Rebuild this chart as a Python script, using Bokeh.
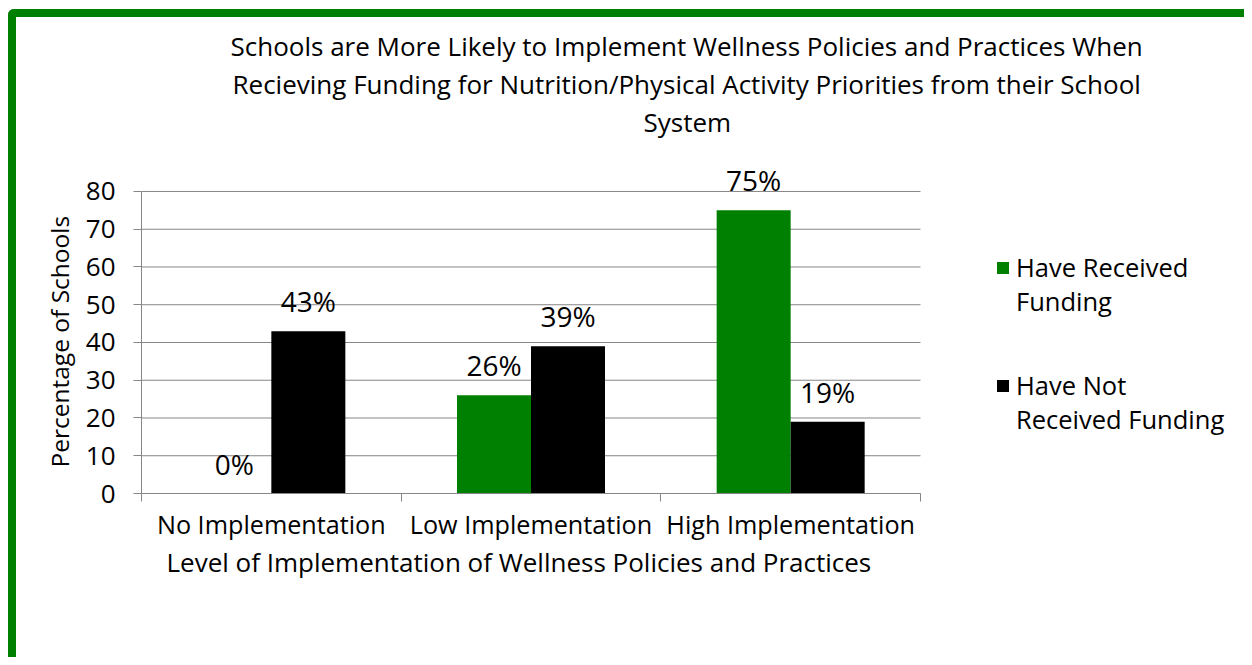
from bokeh.plotting import figure
from bokeh.models import ColumnDataSource, Range1d, FixedTicker, LabelSet, Legend, LegendItem, Title
from bokeh.embed import file_html
from bokeh.resources import INLINE
from bokeh.core.properties import value

categories = ["No Implementation", "Low Implementation", "High Implementation"]
received = [0, 26, 75]
not_received = [43, 39, 19]
series_names = ["Have Received\nFunding", "Have Not\nReceived Funding"]
y_ticks = [0, 10, 20, 30, 40, 50, 60, 70, 80]
title_lines = ["Schools are More Likely to Implement Wellness Policies and Practices When",
               "Recieving Funding  for Nutrition/Physical Activity Priorities from their School",
               "System"]
x_label = "Level of Implementation of Wellness Policies and Practices"
y_label = "Percentage of Schools"

FONT = "Open Sans"
GREEN = "#008000"
GRAY = "#868686"

# layout (canvas pixels)
W, H = 1236, 648
FL, FR, FT, FB = 125, 904, 140, 476     # axis area; frame is extended to the right for the legend
n = len(categories)
x_end = n * (W - FL) / (FR - FL)

bw = 0.285
centers = [i + 0.5 for i in range(n)]
src1 = ColumnDataSource(dict(x=[c - bw / 2 for c in centers], top=received,
                             label=[f"{v}%" for v in received]))
src2 = ColumnDataSource(dict(x=[c + bw / 2 for c in centers], top=not_received,
                             label=[f"{v}%" for v in not_received]))

p = figure(width=W, height=H, x_range=Range1d(0, x_end), y_range=Range1d(0, 89),
           output_backend="svg", toolbar_location=None, title=None,
           min_border_left=FL, min_border_right=0, min_border_bottom=H - FB, min_border_top=FT)
p.styles = {"margin-left": "8px", "margin-top": "9px",
            "border-left": "8px solid #008000", "border-top": "8px solid #008000",
            "border-top-left-radius": "6px"}
p.outline_line_color = None
p.background_fill_color = "white"
p.border_fill_color = "white"

# spacer between title block and plot, then title lines (nearest-to-frame first)
p.add_layout(Title(text=" ", text_font_size="1px", standoff=15), "above")
title_offsets = [89, 91, 502]
for line, off in reversed(list(zip(title_lines, title_offsets))):
    p.add_layout(Title(text=line, align="left", offset=off, standoff=0,
                       text_font=FONT, text_font_size="26px", text_font_style="normal",
                       text_color="black"), "above")

# horizontal grid lines limited to the category area
p.segment(x0=[0] * len(y_ticks), x1=[n] * len(y_ticks), y0=y_ticks, y1=y_ticks,
          line_color=GRAY, line_width=1)

r1 = p.vbar(x="x", top="top", width=bw, bottom=0, source=src1, fill_color=GREEN, line_color=None)
r2 = p.vbar(x="x", top="top", width=bw, bottom=0, source=src2, fill_color="black", line_color=None)

for src in (src1, src2):
    p.add_layout(LabelSet(x="x", y="top", text="label", source=src, y_offset=19,
                          text_align="center", text_baseline="alphabetic",
                          text_font=value(FONT), text_font_size=value("28px"), text_color="black"))

# y axis
p.yaxis.ticker = FixedTicker(ticks=y_ticks)
p.yaxis.bounds = (0, 80)
p.yaxis.major_tick_out = 8
p.yaxis.major_tick_in = 0
p.yaxis.minor_tick_line_color = None
p.yaxis.axis_line_color = GRAY
p.yaxis.major_tick_line_color = GRAY
p.yaxis.major_label_text_font = FONT
p.yaxis.major_label_text_font_size = "26px"
p.yaxis.major_label_text_color = "black"
p.yaxis.major_label_standoff = 18

# y-axis title, placed along the 0-80 span (not the extended frame)
p.add_layout(Title(text=y_label, align="left", offset=26, standoff=14,
                   text_font=FONT, text_font_size="24.5px", text_font_style="normal",
                   text_color="black"), "left")

# x axis
p.xaxis.ticker = FixedTicker(ticks=centers, minor_ticks=[float(i) for i in range(n + 1)])
p.xaxis.bounds = (0, n)
p.xaxis.major_label_overrides = {c: name for c, name in zip(centers, categories)}
p.xaxis.major_tick_out = 0
p.xaxis.major_tick_in = 0
p.xaxis.minor_tick_out = 8
p.xaxis.minor_tick_in = 0
p.xaxis.minor_tick_line_color = GRAY
p.xaxis.axis_line_color = GRAY
p.xaxis.major_label_text_font = FONT
p.xaxis.major_label_text_font_size = "25.2px"
p.xaxis.major_label_text_color = "black"
p.xaxis.major_label_standoff = 5

# x-axis title (centred under the category area, not the extended frame)
p.add_layout(Title(text=x_label, align="left", offset=25, standoff=0, vertical_align="top",
                   text_font=FONT, text_font_size="26px", text_font_style="normal",
                   text_color="black"), "below")

p.xgrid.grid_line_color = None
p.ygrid.grid_line_color = None

# legends: first line carries the swatch, second line is a continuation
legend_y = [175, 57]
for r, name, ly in zip((r1, r2), series_names, legend_y):
    first, second = name.split("\n")
    lg = Legend(items=[LegendItem(label=first, renderers=[r]),
                       LegendItem(label=second, renderers=[])],
                location=(FR - FL + 75, ly), glyph_width=15, glyph_height=15,
                label_standoff=6, spacing=0, padding=0, margin=0, border_line_color=None,
                background_fill_alpha=0, label_text_font=FONT, label_text_font_size="25.5px",
                label_text_color="black", label_text_line_height=0.94, label_height=15)
    p.add_layout(lg)

open("out.html", "w").write(file_html(p, INLINE))
